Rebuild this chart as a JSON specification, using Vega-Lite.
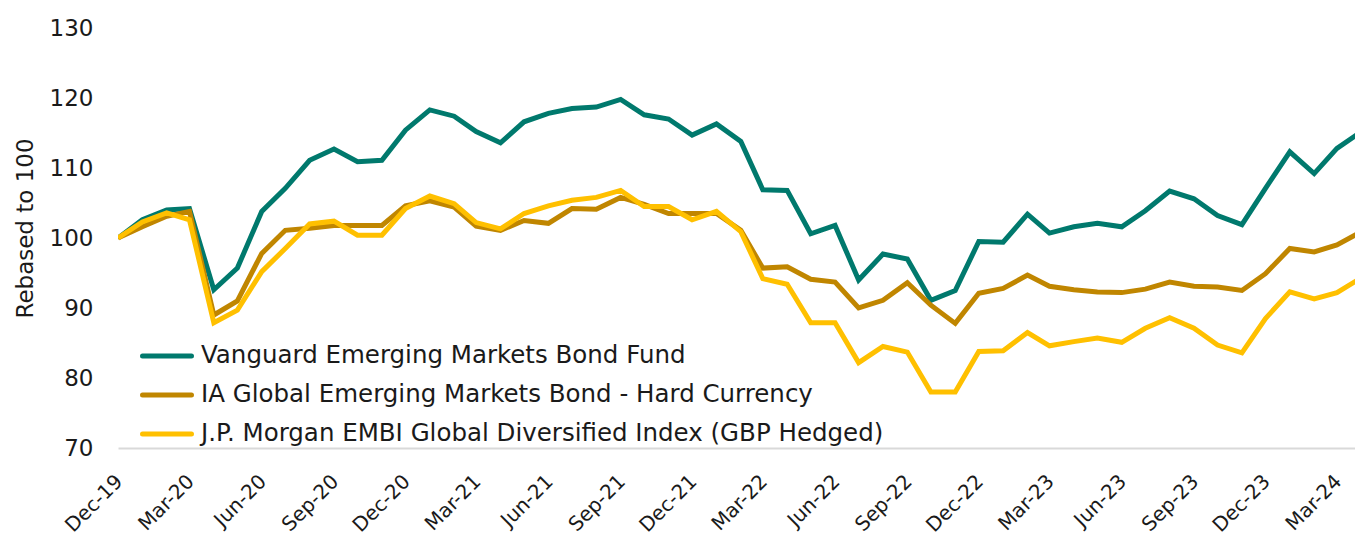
{
  "$schema": "https://vega.github.io/schema/vega-lite/v6.json",
  "width": 1237,
  "height": 420,
  "autosize": {"type": "none"},
  "padding": {"left": 118, "top": 28, "right": 0, "bottom": 93},
  "background": "white",
  "config": {
    "font": "DejaVu Sans",
    "view": {"stroke": null},
    "axis": {"labelColor": "#1a1a1a", "titleColor": "#1a1a1a"},
    "legend": {"labelColor": "#1a1a1a"}
  },
  "data": {
    "values": [
      {"date": "2019-12-01", "Vanguard": 100.0, "IA": 100.0, "JPM": 100.0},
      {"date": "2020-01-01", "Vanguard": 102.6, "IA": 101.6, "JPM": 102.3},
      {"date": "2020-02-01", "Vanguard": 104.0, "IA": 103.1, "JPM": 103.6},
      {"date": "2020-03-01", "Vanguard": 104.2, "IA": 103.8, "JPM": 102.6},
      {"date": "2020-04-01", "Vanguard": 92.6, "IA": 89.0, "JPM": 87.9},
      {"date": "2020-05-01", "Vanguard": 95.7, "IA": 91.0, "JPM": 89.7},
      {"date": "2020-06-01", "Vanguard": 103.8, "IA": 97.8, "JPM": 95.2},
      {"date": "2020-07-01", "Vanguard": 107.1, "IA": 101.1, "JPM": 98.5},
      {"date": "2020-08-01", "Vanguard": 111.1, "IA": 101.4, "JPM": 102.0},
      {"date": "2020-09-01", "Vanguard": 112.7, "IA": 101.8, "JPM": 102.4},
      {"date": "2020-10-01", "Vanguard": 110.9, "IA": 101.8, "JPM": 100.4},
      {"date": "2020-11-01", "Vanguard": 111.1, "IA": 101.8, "JPM": 100.4},
      {"date": "2020-12-01", "Vanguard": 115.4, "IA": 104.6, "JPM": 104.2},
      {"date": "2021-01-01", "Vanguard": 118.3, "IA": 105.3, "JPM": 106.0},
      {"date": "2021-02-01", "Vanguard": 117.4, "IA": 104.4, "JPM": 104.9},
      {"date": "2021-03-01", "Vanguard": 115.2, "IA": 101.7, "JPM": 102.2},
      {"date": "2021-04-01", "Vanguard": 113.6, "IA": 101.1, "JPM": 101.3},
      {"date": "2021-05-01", "Vanguard": 116.6, "IA": 102.5, "JPM": 103.5},
      {"date": "2021-06-01", "Vanguard": 117.8, "IA": 102.1, "JPM": 104.6},
      {"date": "2021-07-01", "Vanguard": 118.5, "IA": 104.2, "JPM": 105.4},
      {"date": "2021-08-01", "Vanguard": 118.7, "IA": 104.1, "JPM": 105.8},
      {"date": "2021-09-01", "Vanguard": 119.8, "IA": 105.8, "JPM": 106.8},
      {"date": "2021-10-01", "Vanguard": 117.6, "IA": 104.8, "JPM": 104.5},
      {"date": "2021-11-01", "Vanguard": 117.0, "IA": 103.5, "JPM": 104.5},
      {"date": "2021-12-01", "Vanguard": 114.7, "IA": 103.5, "JPM": 102.6},
      {"date": "2022-01-01", "Vanguard": 116.3, "IA": 103.5, "JPM": 103.8},
      {"date": "2022-02-01", "Vanguard": 113.8, "IA": 101.1, "JPM": 100.9},
      {"date": "2022-03-01", "Vanguard": 106.9, "IA": 95.7, "JPM": 94.2},
      {"date": "2022-04-01", "Vanguard": 106.8, "IA": 95.9, "JPM": 93.4},
      {"date": "2022-05-01", "Vanguard": 100.6, "IA": 94.1, "JPM": 87.9},
      {"date": "2022-06-01", "Vanguard": 101.8, "IA": 93.7, "JPM": 87.9},
      {"date": "2022-07-01", "Vanguard": 94.0, "IA": 90.0, "JPM": 82.2},
      {"date": "2022-08-01", "Vanguard": 97.7, "IA": 91.1, "JPM": 84.5},
      {"date": "2022-09-01", "Vanguard": 97.0, "IA": 93.6, "JPM": 83.7},
      {"date": "2022-10-01", "Vanguard": 91.1, "IA": 90.4, "JPM": 78.0},
      {"date": "2022-11-01", "Vanguard": 92.5, "IA": 87.8, "JPM": 78.0},
      {"date": "2022-12-01", "Vanguard": 99.5, "IA": 92.1, "JPM": 83.8},
      {"date": "2023-01-01", "Vanguard": 99.4, "IA": 92.8, "JPM": 83.9},
      {"date": "2023-02-01", "Vanguard": 103.4, "IA": 94.7, "JPM": 86.5},
      {"date": "2023-03-01", "Vanguard": 100.7, "IA": 93.1, "JPM": 84.6},
      {"date": "2023-04-01", "Vanguard": 101.6, "IA": 92.6, "JPM": 85.2},
      {"date": "2023-05-01", "Vanguard": 102.1, "IA": 92.3, "JPM": 85.7},
      {"date": "2023-06-01", "Vanguard": 101.6, "IA": 92.2, "JPM": 85.1},
      {"date": "2023-07-01", "Vanguard": 103.9, "IA": 92.7, "JPM": 87.1},
      {"date": "2023-08-01", "Vanguard": 106.7, "IA": 93.7, "JPM": 88.6},
      {"date": "2023-09-01", "Vanguard": 105.6, "IA": 93.1, "JPM": 87.1},
      {"date": "2023-10-01", "Vanguard": 103.2, "IA": 93.0, "JPM": 84.7},
      {"date": "2023-11-01", "Vanguard": 101.9, "IA": 92.5, "JPM": 83.6},
      {"date": "2023-12-01", "Vanguard": 107.1, "IA": 94.9, "JPM": 88.5},
      {"date": "2024-01-01", "Vanguard": 112.3, "IA": 98.5, "JPM": 92.3},
      {"date": "2024-02-01", "Vanguard": 109.2, "IA": 98.0, "JPM": 91.3},
      {"date": "2024-03-01", "Vanguard": 112.8, "IA": 99.0, "JPM": 92.2},
      {"date": "2024-04-01", "Vanguard": 115.2, "IA": 100.9, "JPM": 94.3}
    ]
  },
  "transform": [
    {"fold": ["Vanguard", "IA", "JPM"], "as": ["series", "value"]}
  ],
  "mark": {"type": "line", "strokeWidth": 5, "clip": true},
  "encoding": {
    "x": {
      "field": "date",
      "type": "temporal",
      "scale": {
        "type": "utc",
        "domain": [
          {"year": 2019, "month": 12, "date": 1, "utc": true},
          {"year": 2024, "month": 3, "date": 24, "utc": true}
        ]
      },
      "axis": {
        "title": null,
        "format": "%b-%y",
        "values": [
          {"year": 2019, "month": 12, "date": 1, "utc": true},
          {"year": 2020, "month": 3, "date": 1, "utc": true},
          {"year": 2020, "month": 6, "date": 1, "utc": true},
          {"year": 2020, "month": 9, "date": 1, "utc": true},
          {"year": 2020, "month": 12, "date": 1, "utc": true},
          {"year": 2021, "month": 3, "date": 1, "utc": true},
          {"year": 2021, "month": 6, "date": 1, "utc": true},
          {"year": 2021, "month": 9, "date": 1, "utc": true},
          {"year": 2021, "month": 12, "date": 1, "utc": true},
          {"year": 2022, "month": 3, "date": 1, "utc": true},
          {"year": 2022, "month": 6, "date": 1, "utc": true},
          {"year": 2022, "month": 9, "date": 1, "utc": true},
          {"year": 2022, "month": 12, "date": 1, "utc": true},
          {"year": 2023, "month": 3, "date": 1, "utc": true},
          {"year": 2023, "month": 6, "date": 1, "utc": true},
          {"year": 2023, "month": 9, "date": 1, "utc": true},
          {"year": 2023, "month": 12, "date": 1, "utc": true},
          {"year": 2024, "month": 3, "date": 1, "utc": true}
        ],
        "labelAngle": -45,
        "labelFontSize": 20,
        "labelPadding": 23,
        "labelOffset": -6,
        "ticks": false,
        "grid": false,
        "domain": true,
        "domainColor": "#d9d9d9",
        "domainWidth": 2,
        "labelOverlap": false
      }
    },
    "y": {
      "field": "value",
      "type": "quantitative",
      "scale": {"domain": [70, 130], "nice": false, "zero": false},
      "axis": {
        "title": "Rebased to 100",
        "titleFontSize": 23,
        "titleFontWeight": "normal",
        "titlePadding": 12,
        "titleY": 200,
        "values": [70, 80, 90, 100, 110, 120, 130],
        "labelFontSize": 23,
        "labelPadding": 25,
        "ticks": false,
        "grid": false,
        "domain": false
      }
    },
    "color": {
      "field": "series",
      "type": "nominal",
      "sort": null,
      "scale": {
        "domain": ["Vanguard", "IA", "JPM"],
        "range": ["#00796D", "#C08600", "#FFC000"]
      },
      "legend": {
        "title": null,
        "orient": "none",
        "legendX": 22,
        "legendY": 301,
        "direction": "vertical",
        "symbolType": "stroke",
        "symbolSize": 2400,
        "symbolStrokeWidth": 5,
        "labelFontSize": 24.5,
        "labelOffset": 7,
        "rowPadding": 0,
        "padding": 0,
        "labelLimit": 900,
        "labelExpr": "datum.label == 'Vanguard' ? 'Vanguard Emerging Markets Bond Fund' : datum.label == 'IA' ? 'IA Global Emerging Markets Bond - Hard Currency' : 'J.P. Morgan EMBI Global Diversified Index (GBP Hedged)'",
        "encode": {
          "symbols": {"update": {"strokeCap": {"value": "round"}}}
        }
      }
    }
  }
}
